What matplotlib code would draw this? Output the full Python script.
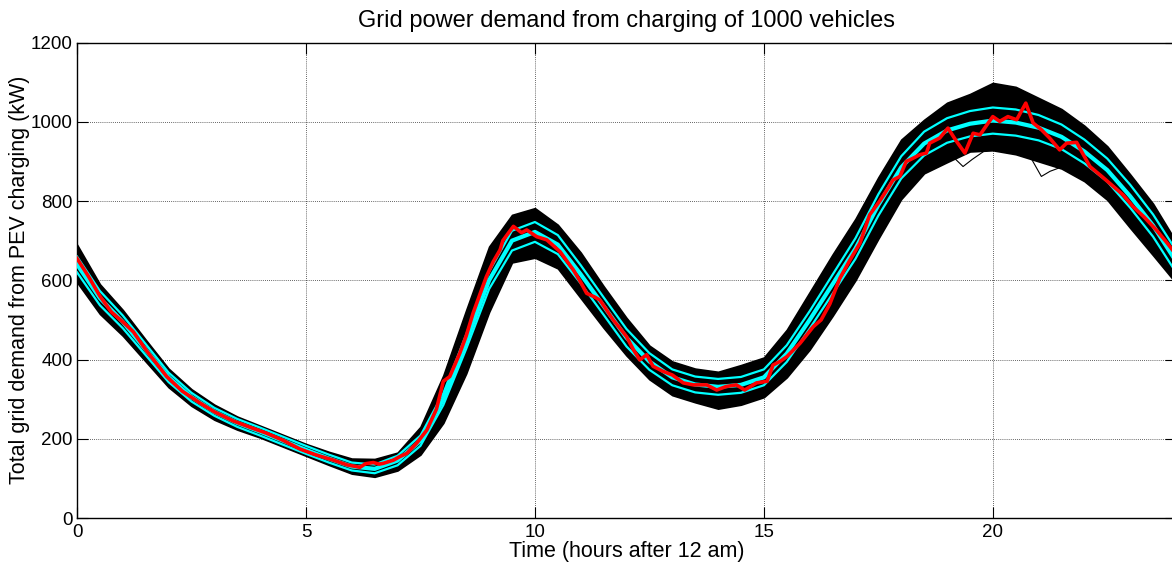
import numpy as np
import matplotlib
matplotlib.use('Agg')
import matplotlib.pyplot as plt

plt.rcParams['font.family'] = ['Liberation Sans', 'DejaVu Sans']

# ------------------------------------------------------------------
# values
# ------------------------------------------------------------------
hours = np.arange(0, 24.5, 0.5)

# mean demand (kW), middle cyan curve
mean_kw = [640, 555, 495, 425, 355, 305, 268, 240, 218, 195, 172, 150, 130, 124,
           145, 195, 300, 445, 600, 700, 722, 690, 615, 535, 455, 395, 355, 337,
           331, 336, 355, 415, 500, 590, 680, 790, 885, 945, 978, 995, 1003, 998,
           985, 962, 925, 878, 812, 738, 648]
# spread of the outer cyan curves around the mean
sd_kw = [20, 18, 16, 14, 12, 11, 10, 10, 10, 10, 10, 10, 10, 11, 12, 13, 15, 18,
         22, 25, 25, 24, 23, 22, 22, 21, 20, 20, 20, 20, 20, 21, 22, 24, 26, 27,
         28, 30, 31, 32, 33, 33, 32, 31, 30, 29, 29, 28, 28]
# extent of the black bundle of runs above / below the mean
env_up = [50, 35, 30, 25, 22, 20, 18, 16, 15, 15, 15, 17, 20, 25, 20, 35, 60, 80,
          85, 65, 60, 50, 55, 50, 50, 40, 40, 40, 38, 50, 50, 60, 70, 75, 75, 70,
          70, 60, 70, 75, 95, 90, 75, 70, 65, 60, 55, 55, 50]
env_dn = [45, 40, 35, 30, 25, 22, 20, 17, 15, 15, 15, 16, 18, 20, 25, 35, 60, 80,
          80, 55, 65, 60, 60, 55, 45, 45, 45, 45, 55, 50, 50, 60, 75, 80, 80, 85,
          80, 75, 80, 70, 75, 80, 85, 80, 75, 75, 80, 75, 55]

# two stray runs that dip below the bundle
stray1_t = [18.6, 18.9, 19.1, 19.35, 19.55, 19.8, 20.1]
stray1_kw = [900, 925, 915, 887, 905, 925, 935]
stray2_t = [20.3, 20.6, 20.85, 21.06, 21.25, 21.46, 21.7]
stray2_kw = [935, 930, 905, 862, 875, 884, 895]

# one sample run (red)
red_t = [0, 0.25, 0.5, 0.75, 1.0, 1.23, 1.5, 1.96, 2.3, 2.69, 3.0, 3.41, 3.8,
         4.14, 4.5, 4.87, 5.2, 5.6, 5.9, 6.18, 6.3, 6.47, 6.6, 6.69, 6.91, 7.05,
         7.2, 7.42, 7.64, 7.85, 8.0, 8.14, 8.36, 8.5, 8.65, 8.8, 8.94, 9.09,
         9.24, 9.3, 9.42, 9.53, 9.62, 9.71, 9.82, 10.04, 10.26, 10.55, 10.84,
         11.0, 11.13, 11.3, 11.42, 11.71, 12.0, 12.15, 12.29, 12.44, 12.58,
         12.8, 13.0, 13.24, 13.46, 13.75, 13.97, 14.18, 14.4, 14.58, 14.84,
         15.07, 15.2, 15.35, 15.5, 15.79, 16.08, 16.25, 16.44, 16.66, 16.88,
         17.1, 17.31, 17.53, 17.71, 17.82, 17.97, 18.11, 18.19, 18.41, 18.55,
         18.62, 18.84, 19.02, 19.21, 19.39, 19.57, 19.72, 19.9, 20.0, 20.15,
         20.33, 20.52, 20.72, 20.88, 21.06, 21.24, 21.46, 21.61, 21.83, 22.12,
         22.4, 22.63, 22.85, 23.06, 23.3, 23.57, 23.8, 24.0]
red_kw = [655, 610, 560, 520, 495, 470, 425, 357, 320, 290, 268, 245, 228, 214,
          196, 174, 160, 146, 134, 128, 137, 140, 136, 138, 146, 155, 163, 189,
          222, 275, 345, 357, 416, 460, 517, 565, 609, 647, 677, 700, 719, 736,
          728, 720, 727, 710, 702, 672, 626, 595, 567, 558, 550, 500, 458, 425,
          399, 412, 383, 370, 361, 341, 336, 336, 323, 332, 336, 323, 341, 345,
          386, 395, 407, 441, 483, 500, 540, 605, 651, 694, 765, 800, 832, 853,
          862, 900, 904, 917, 921, 946, 959, 984, 950, 921, 971, 967, 997, 1013,
          1001, 1013, 1005, 1047, 997, 980, 959, 929, 946, 948, 887, 860, 837,
          815, 786, 760, 727, 695, 665]

# ------------------------------------------------------------------
# plot
# ------------------------------------------------------------------
mean_kw = np.array(mean_kw, dtype=float)
sd_kw = np.array(sd_kw, dtype=float)

fig = plt.figure(figsize=(11.72, 5.63), dpi=100)
ax = fig.add_axes([0.0657, 0.0799, 0.9377, 0.8446])

ax.fill_between(hours, mean_kw - np.array(env_dn), mean_kw + np.array(env_up),
                color='k', lw=1.2, zorder=2)
ax.plot(stray1_t, stray1_kw, 'k', lw=0.8, zorder=2)
ax.plot(stray2_t, stray2_kw, 'k', lw=0.8, zorder=2)

ax.plot(hours, mean_kw + sd_kw, color='cyan', lw=1.6, zorder=3)
ax.plot(hours, mean_kw - sd_kw, color='cyan', lw=1.6, zorder=3)
ax.plot(hours, mean_kw, color='cyan', lw=3.0, zorder=3)
ax.plot(red_t, red_kw, color='red', lw=2.6, zorder=4)

ax.set_xlim(0, 24)
ax.set_ylim(0, 1200)
ax.set_xticks([0, 5, 10, 15, 20])
ax.set_yticks(range(0, 1201, 200))
ax.grid(True, color='k', linestyle=(0, (1, 1.5)), lw=0.6, alpha=0.8)
ax.set_axisbelow(True)
ax.tick_params(direction='in', length=8, width=0.8, top=True, right=True,
               labelsize=13.5)
ax.tick_params(axis='x', pad=4)
ax.tick_params(axis='y', pad=3)
for s in ax.spines.values():
    s.set_linewidth(1.0)

ax.set_title('Grid power demand from charging of 1000 vehicles', fontsize=17, pad=11)
ax.set_xlabel('Time (hours after 12 am)', fontsize=15.5, labelpad=0)
ax.set_ylabel('Total grid demand from PEV charging (kW)', fontsize=15.5, labelpad=1)

fig.savefig('out.png', dpi=100)
